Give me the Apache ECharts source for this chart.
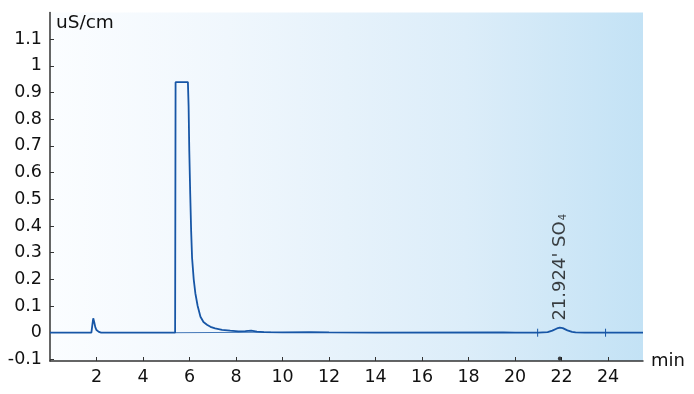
<!DOCTYPE html>
<html>
<head>
<meta charset="utf-8">
<script src="https://cdn.jsdelivr.net/npm/echarts@6/dist/echarts.min.js"></script>
<style>html,body{margin:0;padding:0;background:#fff}#c{width:694px;height:394px}</style>
</head>
<body>
<div id="c"></div>
<script>
// Retention time (min) and conductivity (uS/cm) of the trace
var times = [0, 1.78, 1.83, 1.86, 1.9, 1.95, 2.0, 2.1, 2.2, 5.0, 5.38, 5.40, 5.93, 5.96, 5.99, 6.03, 6.07, 6.11, 6.18, 6.25, 6.35, 6.47, 6.6, 6.75, 6.9, 7.1, 7.4, 7.75, 8.1, 8.4, 8.65, 8.9, 9.2, 10, 11.2, 12, 14, 19.5, 20, 21, 21.4, 21.6, 21.8, 21.92, 22.05, 22.25, 22.45, 22.6, 23, 25.5];
var values = [0, 0, 0.035, 0.054, 0.04, 0.02, 0.01, 0.003, 0, 0, 0, 0.939, 0.939, 0.85, 0.68, 0.52, 0.38, 0.28, 0.2, 0.148, 0.1, 0.06, 0.04, 0.03, 0.022, 0.016, 0.011, 0.0075, 0.005, 0.006, 0.008, 0.004, 0.002, 0.001, 0.002, 0.001, 0.0005, 0.001, 0.0005, 0, 0.002, 0.008, 0.016, 0.019, 0.017, 0.009, 0.003, 0.001, 0, 0];
// integration baseline under the main peak
var baseTimes = [5.39, 9.5];
var baseValues = [0, 0.002];
// integration start/end marks around the SO4 peak
var markTimes = [20.97, 23.89];
var markHalf = 0.015;
// identified peak
var peakTime = 21.924;
var peakHeight = 0.019;
var peakName = "21.924' SO";
var peakSub = "4";
var peakDotValue = -0.097;
// axes
var xTicks = [2, 4, 6, 8, 10, 12, 14, 16, 18, 20, 22, 24];
var yTicks = [-0.1, 0, 0.1, 0.2, 0.3, 0.4, 0.5, 0.6, 0.7, 0.8, 0.9, 1.0, 1.1];
var xName = 'min';
var yName = 'uS/cm';

var FONT = 'DejaVu Sans';
var TXT = '#111111';
var LINE = '#1756a6';

var trace = times.map(function (t, i) { return [t, values[i]]; });
var base = baseTimes.map(function (t, i) { return [t, baseValues[i]]; });

var series = [
  {
    type: 'line', data: base, symbol: 'none', silent: true,
    lineStyle: {color: LINE, width: 1, opacity: 0.8}
  },
  {
    type: 'line', data: trace, symbol: 'none',
    lineStyle: {color: LINE, width: 1.8}
  },
  {
    type: 'scatter', symbolSize: 0.1,
    data: [[peakTime, peakHeight]],
    itemStyle: {color: 'rgba(0,0,0,0)'},
    label: {
      show: true, position: 'top', distance: 7, rotate: 90,
      align: 'left', verticalAlign: 'middle',
      formatter: '{a|' + peakName + '}{b|' + peakSub + '}',
      rich: {
        a: {fontFamily: FONT, fontSize: 18, color: TXT},
        b: {fontFamily: FONT, fontSize: 10, color: TXT, verticalAlign: 'bottom', padding: [6, 0, 0, 1]}
      }
    }
  },
  {
    type: 'scatter', symbol: 'circle', symbolSize: 4,
    data: [[peakTime, peakDotValue]],
    itemStyle: {color: '#111'}
  }
];
markTimes.forEach(function (t) {
  series.push({
    type: 'line', symbol: 'none', silent: true,
    data: [[t, -markHalf], [t, markHalf]],
    lineStyle: {color: LINE, width: 1}
  });
});

var chart = echarts.init(document.getElementById('c'));
chart.setOption({
  animation: false,
  title: {
    text: yName, left: 51, top: 9,
    textStyle: {fontFamily: FONT, fontSize: 18.5, fontWeight: 'normal', color: TXT}
  },
  grid: {
    left: 50, right: 51, top: 12.5, bottom: 33,
    show: true, borderWidth: 0,
    backgroundColor: {
      type: 'linear', x: 0, y: 0, x2: 1, y2: 0,
      colorStops: [
        {offset: 0, color: '#fbfdff'},
        {offset: 0.3, color: '#f0f7fd'},
        {offset: 0.7, color: '#dcedf9'},
        {offset: 1, color: '#c3e2f5'}
      ]
    }
  },
  xAxis: {
    type: 'value', min: 0, max: 25.5,
    name: xName, nameLocation: 'end', nameGap: 8,
    nameTextStyle: {fontFamily: FONT, fontSize: 18, color: TXT, verticalAlign: 'middle'},
    axisLine: {onZero: false, lineStyle: {color: '#333', width: 1.5}},
    axisTick: {inside: true, length: 4, customValues: xTicks, lineStyle: {color: '#333'}},
    axisLabel: {customValues: xTicks, fontFamily: FONT, fontSize: 17.5, color: TXT, margin: 7},
    splitLine: {show: false}
  },
  yAxis: {
    type: 'value', min: -0.106, max: 1.2,
    axisLine: {show: true, onZero: false, lineStyle: {color: '#333', width: 1.5}},
    axisTick: {inside: true, length: 4, customValues: yTicks, lineStyle: {color: '#333'}},
    axisLabel: {
      customValues: yTicks, fontFamily: FONT, fontSize: 17.5, color: TXT, margin: 8,
      formatter: function (v) { return (Math.round(v * 10) / 10).toString(); }
    },
    splitLine: {show: false}
  },
  series: series
});
</script>
</body>
</html>
